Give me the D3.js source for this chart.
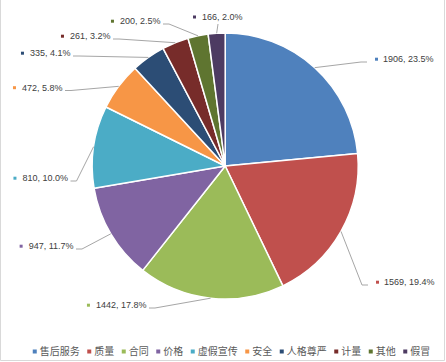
<!DOCTYPE html>
<html>
<head>
<meta charset="utf-8">
<title>pie</title>
<script src="https://cdnjs.cloudflare.com/ajax/libs/d3/7.8.5/d3.min.js"></script>
<style>
  body { margin: 0; background: #fff; }
  svg { display: block; }
</style>
</head>
<body>
<div id="chart"></div>
<script>
// data
var categories = ["售后服务", "质量", "合同", "价格", "虚假宣传", "安全", "人格尊严", "计量", "其他", "假冒"];
var counts = [1906, 1569, 1442, 947, 810, 472, 335, 261, 200, 166];
var colors = ["#4f81bd", "#c0504d", "#9bbb59", "#8064a2", "#4bacc6", "#f79646", "#2c4d75", "#772c2a", "#5f7530", "#4d3b62"];

// where each leader line ends (label side), layout only
var labelAt = [
  [367, 62, "right"], [368, 285, "right"], [149, 308, "left"], [76, 249, "left"],
  [70.5, 181, "left"], [65, 90.5, "left"], [73, 56, "left"], [113, 39, "left"],
  [163, 24, "left"], [218, 24, "top"]
];

var W = 446, H = 362;
var cx = 225.2, cy = 166, r = 133;

var svg = d3.select("#chart").append("svg")
  .attr("width", W).attr("height", H);

// chart frame (top edge is outside the crop)
svg.append("path")
  .attr("d", "M0.5,-1 V360.5 H444.5 V-1")
  .attr("fill", "none").attr("stroke", "#d9d9d9").attr("stroke-width", 1);

var total = d3.sum(counts);
var pie = d3.pie().sort(null).value(function(d) { return d; });
var arcs = pie(counts);
var arc = d3.arc().innerRadius(0).outerRadius(r);

var g = svg.append("g").attr("transform", "translate(" + cx + "," + cy + ")");
g.selectAll("path.slice")
  .data(arcs)
  .enter().append("path")
  .attr("class", "slice")
  .attr("d", arc)
  .attr("fill", function(d, i) { return colors[i]; })
  .attr("stroke", "#fff")
  .attr("stroke-width", 1.5)
  .attr("stroke-linejoin", "round");

// labels + leaders
var lab = svg.append("g").attr("font-family", "'Liberation Sans', Arial, sans-serif")
  .attr("font-size", 9).attr("fill", "#404040");

arcs.forEach(function(d, i) {
  var mid = (d.startAngle + d.endAngle) / 2;
  var ex = cx + r * Math.sin(mid), ey = cy - r * Math.cos(mid);
  var p = labelAt[i];
  var txt = counts[i] + ", " + (counts[i] / total * 100).toFixed(1) + "%";
  var pts;
  var ty = p[1] - 2.8;
  var t = lab.append("text").attr("dy", "0.35em").text(txt);
  var tw = t.node().getComputedTextLength();
  var mx, tx;
  if (p[2] === "right") {
    pts = [[ex, ey], [p[0] - 6, p[1]], [p[0], p[1]]];
    mx = p[0] + 8; tx = p[0] + 16;
  } else if (p[2] === "left") {
    pts = [[ex, ey], [p[0] + 6, p[1]], [p[0], p[1]]];
    tx = p[0] - 2.5 - tw; mx = tx - 9;
  } else {
    pts = [[ex, ey], [p[0], p[1]]];
    ty = p[1] - 7;
    tx = p[0] - 16; mx = tx - 9;
  }
  svg.insert("polyline", "g + g")
    .attr("points", pts.map(function(q) { return q.join(","); }).join(" "))
    .attr("fill", "none").attr("stroke", "#a6a6a6").attr("stroke-width", 1);
  t.attr("x", tx).attr("y", ty);
  lab.append("rect").attr("x", mx).attr("y", ty - 1.5).attr("width", 3).attr("height", 3)
    .attr("fill", colors[i]);
});

// legend
var leg = svg.append("g")
  .attr("font-family", "'Noto Sans CJK SC', sans-serif")
  .attr("font-size", 10).attr("fill", "#595959");
var items = [], x = 0;
categories.forEach(function(c, i) {
  var it = leg.append("g");
  it.append("rect").attr("x", 0).attr("y", -2).attr("width", 4).attr("height", 4).attr("fill", colors[i]);
  var t = it.append("text").attr("x", 7).attr("dy", "0.35em").text(c);
  var w = 7 + t.node().getComputedTextLength();
  items.push({ g: it, x: x });
  x += w + 7.5;
});
var legW = x - 7.5;
var lx0 = 231.5 - legW / 2;
items.forEach(function(it) {
  it.g.attr("transform", "translate(" + (lx0 + it.x) + ",351.5)");
});
</script>
</body>
</html>
